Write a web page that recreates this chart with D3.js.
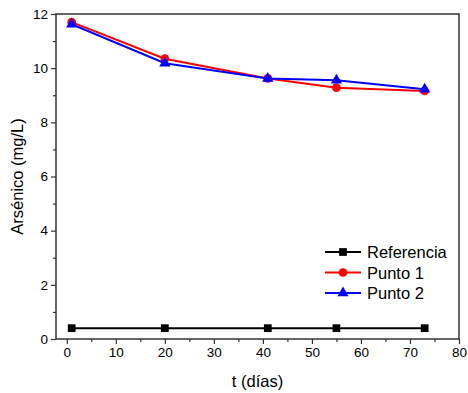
<!DOCTYPE html>
<html lang="es">
<head>
<meta charset="utf-8">
<title>Arsénico vs t</title>
<script src="https://d3js.org/d3.v7.min.js"></script>
<style>
  body { margin: 0; background: #fff; }
  text { font-family: "Liberation Sans", Arial, sans-serif; }
</style>
</head>
<body>
<script>
var dias = [1, 20, 41, 55, 73];
var referencia = [0.4, 0.4, 0.4, 0.4, 0.4];
var punto1 = [11.7, 10.35, 9.62, 9.28, 9.16];
var punto2 = [11.62, 10.18, 9.62, 9.55, 9.22];
var xTicks = [0, 10, 20, 30, 40, 50, 60, 70, 80];
var yTicks = [0, 2, 4, 6, 8, 10, 12];

var series = [
  { name: "Referencia", values: referencia, color: "#000000", symbol: d3.symbolSquare },
  { name: "Punto 1", values: punto1, color: "#ff0000", symbol: d3.symbolCircle },
  { name: "Punto 2", values: punto2, color: "#0000ff", symbol: d3.symbolTriangle }
];

var width = 468, height = 393;
var mLeft = 56, mRight = 459, mTop = 14, mBottom = 339;

var svg = d3.select("body").append("svg")
    .attr("width", width)
    .attr("height", height);

var x = d3.scaleLinear().domain([-2.2, 80]).range([mLeft, mRight]);
var y = d3.scaleLinear().domain([0, 12]).range([mBottom, mTop]);

// frame
svg.append("rect")
    .attr("x", mLeft).attr("y", mTop)
    .attr("width", mRight - mLeft).attr("height", mBottom - mTop)
    .attr("fill", "none").attr("stroke", "#333").attr("stroke-width", 1.5);

// x axis
var xAxis = svg.append("g").attr("transform", "translate(0," + mBottom + ")");
xAxis.call(d3.axisBottom(x).tickValues(xTicks).tickSize(5).tickPadding(3));
xAxis.append("g").call(d3.axisBottom(x).tickValues(d3.range(5, 80, 10)).tickSize(3).tickFormat(""));
xAxis.selectAll(".domain").remove();
xAxis.selectAll("line").attr("stroke", "#333").attr("stroke-width", 1.2);
xAxis.selectAll("text").attr("font-size", 13.5).attr("fill", "#000");

// y axis
var yAxis = svg.append("g").attr("transform", "translate(" + mLeft + ",0)");
yAxis.call(d3.axisLeft(y).tickValues(yTicks).tickSize(5).tickPadding(3));
yAxis.append("g").call(d3.axisLeft(y).tickValues(d3.range(1, 12, 2)).tickSize(3).tickFormat(""));
yAxis.selectAll(".domain").remove();
yAxis.selectAll("line").attr("stroke", "#333").attr("stroke-width", 1.2);
yAxis.selectAll("text").attr("font-size", 13.5).attr("fill", "#000");

// axis titles
svg.append("text")
    .attr("x", (mLeft + mRight) / 2).attr("y", 387)
    .attr("text-anchor", "middle").attr("font-size", 16.5)
    .text("t (días)");
svg.append("text")
    .attr("transform", "translate(23," + (mTop + mBottom) / 2 + ") rotate(-90)")
    .attr("text-anchor", "middle").attr("font-size", 16.5)
    .text("Arsénico (mg/L)");

// series
var line = d3.line()
    .x(function(d, i) { return x(dias[i]); })
    .y(function(d) { return y(d); });

series.forEach(function(s) {
  svg.append("path")
      .datum(s.values)
      .attr("d", line)
      .attr("fill", "none")
      .attr("stroke", s.color)
      .attr("stroke-width", 2);
  svg.selectAll(null)
      .data(s.values)
      .enter()
      .append("path")
      .attr("transform", function(d, i) { return "translate(" + x(dias[i]) + "," + y(d) + ")"; })
      .attr("d", d3.symbol().type(s.symbol).size(s.symbol === d3.symbolTriangle ? 55 : 60))
      .attr("fill", s.color);
});

// legend
var legend = svg.append("g").attr("transform", "translate(325,252)");
series.forEach(function(s, i) {
  var g = legend.append("g").attr("transform", "translate(0," + i * 20.5 + ")");
  g.append("line").attr("x1", 0).attr("x2", 36).attr("y1", 0).attr("y2", 0)
      .attr("stroke", s.color).attr("stroke-width", 2);
  g.append("path").attr("transform", "translate(18,0)")
      .attr("d", d3.symbol().type(s.symbol).size(s.symbol === d3.symbolTriangle ? 55 : 60))
      .attr("fill", s.color);
  g.append("text").attr("x", 42).attr("y", 6).attr("font-size", 16.5).text(s.name);
});
</script>
</body>
</html>
